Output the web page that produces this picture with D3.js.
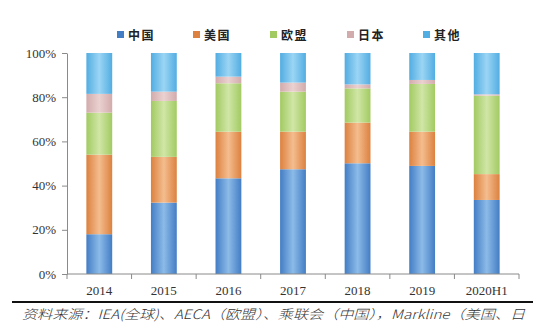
<!DOCTYPE html>
<html>
<head>
<meta charset="utf-8">
<script src="https://cdn.jsdelivr.net/npm/d3@7"></script>
<style>
  html, body { margin: 0; padding: 0; background: #fff; }
  svg { display: block; }
</style>
</head>
<body>
<svg id="chart" width="546" height="333"></svg>
<script>
// Market share of new-energy vehicle sales by region (%)
const categories = ["2014", "2015", "2016", "2017", "2018", "2019", "2020H1"];
const seriesNames = ["中国", "美国", "欧盟", "日本", "其他"];
const china  = [18.0, 32.3, 43.3, 47.4, 50.1, 48.9, 33.5];
const usa    = [36.0, 20.7, 21.1, 17.0, 18.4, 15.5, 11.7];
const eu     = [19.0, 25.3, 21.9, 18.1, 15.5, 21.6, 35.5];
const japan  = [ 8.5,  4.2,  3.0,  4.1,  1.8,  1.8,  0.6];
const other  = [18.5, 17.5, 10.7, 13.4, 14.2, 12.2, 18.7];
const yTicks = [0, 20, 40, 60, 80, 100];
const sourceNote = "资料来源：IEA(全球)、AECA（欧盟）、乘联会（中国），Markline（美国、日";

const seriesValues = [china, usa, eu, japan, other];
// edge / centre colours for the cylinder-like shading of each series
const palette = [
  ["#437dc4", "#8cbbe8"],
  ["#dc813f", "#f4bd8e"],
  ["#a2ca62", "#d0e6a6"],
  ["#d2abac", "#ebd1d1"],
  ["#52ade2", "#9bd5f4"]
];

const serif = "'Liberation Serif', 'Times New Roman', serif";
const svg = d3.select("#chart");
const margin = { left: 67, right: 27, top: 53, bottom: 59 };
const W = 546, H = 333;
const plotW = W - margin.left - margin.right;
const plotH = H - margin.top - margin.bottom;

const rows = categories.map((c, i) => {
  const r = { cat: c };
  seriesNames.forEach((s, k) => r[s] = seriesValues[k][i]);
  return r;
});
const stacked = d3.stack().keys(seriesNames)(rows);

const x = d3.scaleBand().domain(categories).range([0, plotW]).paddingInner(0.6).paddingOuter(0.3);
const y = d3.scaleLinear().domain([0, 100]).range([plotH, 0]);

const defs = svg.append("defs");
palette.forEach((p, k) => {
  const g = defs.append("linearGradient").attr("id", "grad" + k)
    .attr("x1", "0%").attr("x2", "100%").attr("y1", "0%").attr("y2", "0%");
  g.append("stop").attr("offset", "0%").attr("stop-color", p[0]);
  g.append("stop").attr("offset", "50%").attr("stop-color", p[1]);
  g.append("stop").attr("offset", "100%").attr("stop-color", p[0]);
});

const g = svg.append("g").attr("transform", `translate(${margin.left},${margin.top})`);

// stacked bars
g.selectAll("g.series").data(stacked).join("g")
  .attr("class", "series")
  .attr("fill", (d, k) => `url(#grad${k})`)
  .selectAll("rect").data(d => d).join("rect")
  .attr("x", d => x(d.data.cat))
  .attr("width", x.bandwidth())
  .attr("y", d => y(Math.min(100, d[1])))
  .attr("height", d => y(d[0]) - y(Math.min(100, d[1])));

// y axis
const yAxis = g.append("g")
  .call(d3.axisLeft(y).tickValues(yTicks).tickFormat(d => d + "%").tickSize(5).tickSizeOuter(0))
  .attr("font-family", serif)
  .attr("font-size", 13);
yAxis.select(".domain").attr("stroke", "#8a8a8a");
yAxis.selectAll(".tick line").attr("stroke", "#8a8a8a");
yAxis.selectAll(".tick text")
  .attr("x", -11)
  .attr("fill", "#333")
  .style("font-family", serif)
  .style("font-size", "13px");

// x axis: ticks sit between categories
const xAxisG = g.append("g").attr("transform", `translate(0,${plotH})`);
xAxisG.append("line").attr("x1", 0).attr("x2", plotW).attr("y1", 0).attr("y2", 0).attr("stroke", "#8a8a8a");
const step = x.step();
const boundaries = d3.range(categories.length + 1).map(i => i * step);
xAxisG.selectAll("line.tk").data(boundaries).join("line")
  .attr("class", "tk")
  .attr("x1", d => d).attr("x2", d => d)
  .attr("y1", 0).attr("y2", 5)
  .attr("stroke", "#8a8a8a");
xAxisG.selectAll("text").data(categories).join("text")
  .attr("x", d => x(d) + x.bandwidth() / 2)
  .attr("y", 21)
  .attr("text-anchor", "middle")
  .attr("fill", "#333")
  .style("font-family", serif)
  .style("font-size", "13px")
  .text(d => d);

// legend
const legendX = [117, 193, 270, 347, 423];
const legend = svg.append("g");
seriesNames.forEach((s, k) => {
  legend.append("rect")
    .attr("x", legendX[k]).attr("y", 31)
    .attr("width", 7).attr("height", 7)
    .attr("fill", palette[k][0]);
  legend.append("text")
    .attr("x", legendX[k] + 11).attr("y", 39.5)
    .attr("fill", "#222")
    .style("font-family", "'Noto Sans CJK SC', sans-serif")
    .style("font-size", "12px")
    .style("font-weight", "700")
    .style("letter-spacing", "1.5px")
    .text(s);
});

// source rule and note
svg.append("line")
  .attr("x1", 12).attr("x2", 533).attr("y1", 302).attr("y2", 302)
  .attr("stroke", "#111").attr("stroke-width", 2);
svg.append("text")
  .attr("x", 22).attr("y", 319)
  .attr("fill", "#333")
  .attr("textLength", 503)
  .attr("lengthAdjust", "spacingAndGlyphs")
  .style("font-family", "'Noto Sans CJK SC', sans-serif")
  .style("font-size", "13px")
  .style("font-style", "italic")
  .style("font-weight", "300")
  .text(sourceNote);
</script>
</body>
</html>
